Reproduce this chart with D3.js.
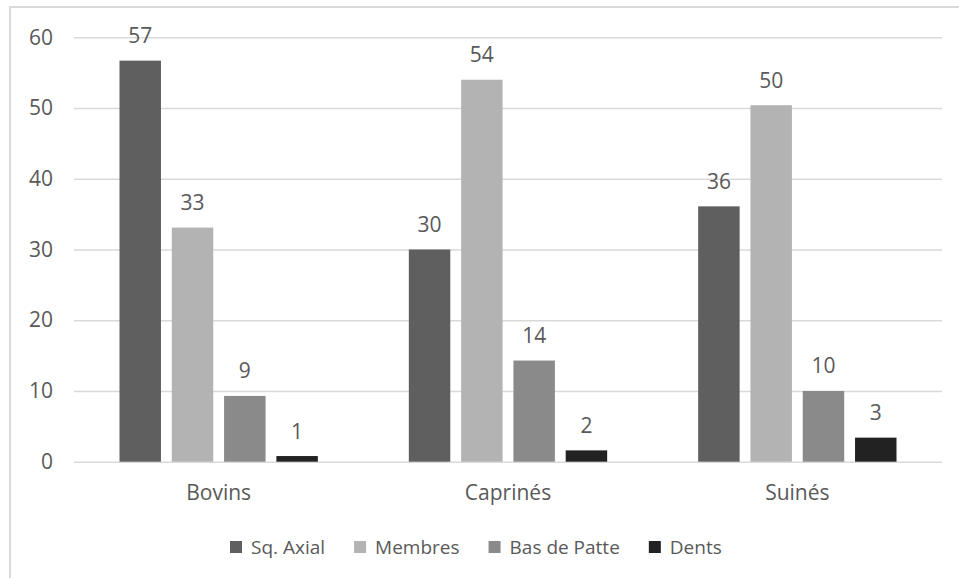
<!DOCTYPE html>
<html>
<head>
<meta charset="utf-8">
<script src="https://cdn.jsdelivr.net/npm/d3@7"></script>
<style>
  html, body { margin: 0; padding: 0; background: #ffffff; }
  svg { display: block; font-family: "Open Sans", "Liberation Sans", sans-serif; }
</style>
</head>
<body>
<svg id="chart" width="959" height="578"></svg>
<script>
// Categories (species) and series (skeletal part groups)
const categories = ["Bovins", "Caprinés", "Suinés"];
const seriesNames = ["Sq. Axial", "Membres", "Bas de Patte", "Dents"];

// Values per series, in category order
const sqAxial    = [56.7, 30.0, 36.1];
const membres    = [33.1, 54.0, 50.4];
const basDePatte = [9.3, 14.3, 10.0];
const dents      = [0.8, 1.6, 3.4];

const yTicks = [0, 10, 20, 30, 40, 50, 60];
const seriesColors = ["#5f5f5f", "#b3b3b3", "#8a8a8a", "#222222"];

const seriesValues = [sqAxial, membres, basDePatte, dents];
const rows = categories.map((c, i) => ({
  category: c,
  values: seriesNames.map((s, j) => ({ series: s, value: seriesValues[j][i] }))
}));

const svg = d3.select("#chart");
const textColor = "#595959";
const gridColor = "#d9d9d9";

// Chart frame (extends past the right and bottom edges of the view)
svg.append("rect")
  .attr("x", 10).attr("y", 7)
  .attr("width", 980).attr("height", 600)
  .attr("fill", "none")
  .attr("stroke", gridColor)
  .attr("stroke-width", 2);

const plot = { left: 74, right: 942, top: 37.3, bottom: 461.7 };

const x0 = d3.scaleBand()
  .domain(categories)
  .range([plot.left, plot.right])
  .padding(0);

const x1 = d3.scaleBand()
  .domain(seriesNames)
  .range([0, x0.bandwidth()])
  .paddingInner(0.207)
  .paddingOuter(0.87)
  .align(0.5);

const y = d3.scaleLinear()
  .domain([0, 60])
  .range([plot.bottom, plot.top]);

const color = d3.scaleOrdinal().domain(seriesNames).range(seriesColors);

// Gridlines and y tick labels
const yAxis = svg.append("g")
  .attr("transform", `translate(${plot.left},0)`)
  .call(d3.axisLeft(y)
    .tickValues(yTicks)
    .tickSize(-(plot.right - plot.left))
    .tickPadding(21)
    .tickFormat(d3.format("d")));
yAxis.select(".domain").remove();
yAxis.selectAll(".tick line")
  .attr("stroke", gridColor)
  .attr("stroke-width", 1.5);
yAxis.selectAll(".tick text")
  .attr("fill", textColor)
  .attr("font-size", 21)
  .attr("font-family", "'Open Sans', sans-serif");

// Category labels
const xAxis = svg.append("g")
  .attr("transform", `translate(0,${plot.bottom})`)
  .call(d3.axisBottom(x0).tickSize(0).tickPadding(0));
xAxis.select(".domain").remove();
xAxis.selectAll(".tick text")
  .attr("fill", textColor)
  .attr("font-size", 21)
  .attr("font-family", "'Open Sans', sans-serif")
  .attr("dy", null)
  .attr("y", 38.5);

// Bars
const groups = svg.append("g").selectAll("g")
  .data(rows)
  .join("g")
  .attr("transform", d => `translate(${x0(d.category)},0)`);

groups.selectAll("rect")
  .data(d => d.values)
  .join("rect")
  .attr("x", d => x1(d.series))
  .attr("y", d => y(d.value))
  .attr("width", x1.bandwidth())
  .attr("height", d => y(0) - y(d.value))
  .attr("fill", d => color(d.series));

// Value labels
groups.selectAll("text.value")
  .data(d => d.values)
  .join("text")
  .attr("class", "value")
  .attr("x", d => x1(d.series) + x1.bandwidth() / 2)
  .attr("y", d => y(d.value) - 17.5)
  .attr("text-anchor", "middle")
  .attr("fill", textColor)
  .attr("font-size", 21)
  .text(d => d3.format(".0f")(d.value));

// Legend
const legend = svg.append("g").attr("transform", "translate(230,554)");
let cursor = 0;
seriesNames.forEach(name => {
  const item = legend.append("g").attr("transform", `translate(${cursor},0)`);
  item.append("rect")
    .attr("x", 0).attr("y", -13)
    .attr("width", 12).attr("height", 12)
    .attr("fill", color(name));
  const t = item.append("text")
    .attr("x", 21).attr("y", 0)
    .attr("fill", textColor)
    .attr("font-size", 19)
    .text(name);
  cursor += 21 + t.node().getComputedTextLength() + 29;
});
</script>
</body>
</html>
